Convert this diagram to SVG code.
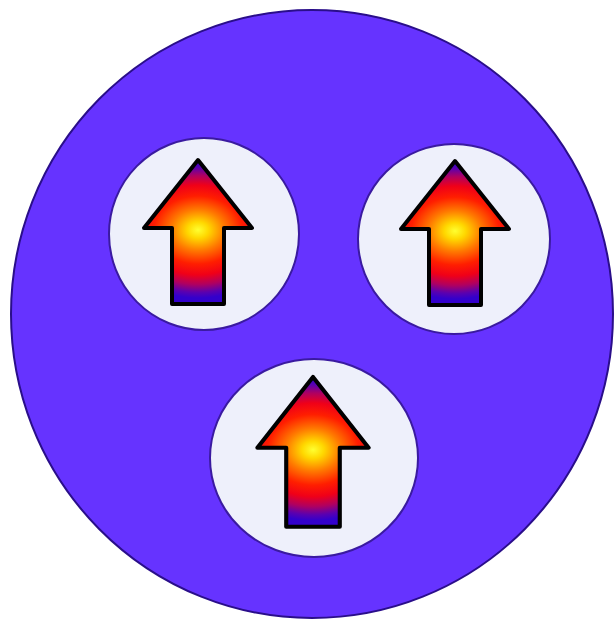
<svg xmlns="http://www.w3.org/2000/svg" xmlns:xlink="http://www.w3.org/1999/xlink" width="615" height="620" viewBox="0 0 615 620">
<style>
.outer{fill:#6633ff;stroke:#2a0e8a;stroke-width:2}
.inner{fill:#eef0fb;stroke:#3a1aa0;stroke-width:2}
.arrow{fill:url(#glow);stroke:#000;stroke-width:4;stroke-linejoin:round}
</style>
<defs>
<radialGradient id="glow" gradientUnits="userSpaceOnUse" cx="0" cy="0" r="1" gradientTransform="translate(0,70) scale(88,68)">
<stop offset="0" stop-color="#ffff30"/>
<stop offset="0.12" stop-color="#ffd800"/>
<stop offset="0.3" stop-color="#ff7a00"/>
<stop offset="0.5" stop-color="#ff1e00"/>
<stop offset="0.66" stop-color="#f00018"/>
<stop offset="0.8" stop-color="#b00060"/>
<stop offset="0.92" stop-color="#5a00b0"/>
<stop offset="1" stop-color="#3300cc"/>
</radialGradient>
<path id="arr" class="arrow" d="M0,0 L54,68 L26,68 L26,144 L-26,144 L-26,68 L-54,68 Z"/>
</defs>
<g id="cell">
<ellipse class="outer" cx="312" cy="314" rx="301" ry="304"/>
</g>
<g id="spin1">
<ellipse class="inner" cx="204" cy="234" rx="95" ry="96"/>
<use xlink:href="#arr" href="#arr" transform="translate(198,160)"/>
</g>
<g id="spin2">
<ellipse class="inner" cx="454" cy="239" rx="96" ry="95"/>
<use xlink:href="#arr" href="#arr" transform="translate(455,161)"/>
</g>
<g id="spin3">
<ellipse class="inner" cx="314" cy="458" rx="104" ry="99"/>
<use xlink:href="#arr" href="#arr" transform="translate(313,377) scale(1.03,1.04)"/>
</g>
<g id="connectors"/>
</svg>
